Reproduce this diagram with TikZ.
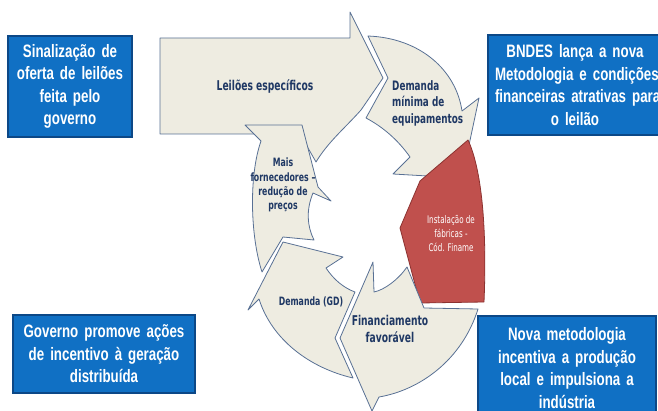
\documentclass[tikz,border=0pt]{standalone}
\usepackage{fontspec}
\setmainfont{Liberation Sans}
\newfontfamily\boxfont[FakeStretch=0.74]{Liberation Sans}
\newfontfamily\ringfont[FakeStretch=0.68]{DejaVu Sans}
\usepackage{xcolor}
\definecolor{boxblue}{RGB}{16,112,196}
\definecolor{boxedge}{RGB}{12,72,135}
\definecolor{ringfill}{RGB}{238,236,225}
\definecolor{ringedge}{RGB}{88,112,148}
\definecolor{ringtext}{RGB}{31,56,100}
\definecolor{redfill}{RGB}{192,80,77}
\definecolor{rededge}{RGB}{140,50,48}

\begin{document}
\begin{tikzpicture}[x=1pt, y=-1pt,
  bluebox/.style={draw=boxedge, line width=1.2pt, fill=boxblue, text=white,
                  align=center, inner xsep=4pt, inner ysep=0pt,
                  font=\boxfont\bfseries\fontsize{18}{22.5}\selectfont},
  seg/.style={draw=ringedge, line width=0.8pt, fill=ringfill, line join=round},
  redseg/.style={seg, draw=rededge, fill=redfill},
  lbl/.style={text=ringtext, align=center, inner sep=0pt}
]
  \useasboundingbox (0,0) rectangle (658,411);
  \clip (0,0) rectangle (658,411);

  % Cycle: straight arrow first, then the ring pieces on top
  \draw[seg] (160,38) -- (350,38) -- (350,12) -- (383,78) -- (361,110)
    .. controls (345,128) and (328,142) .. (316,162) -- (300,134) -- (160,134) -- cycle;
  \draw[seg] (245,125) -- (302,125) -- (318,187) -- (331,201) -- (313,193)
    .. controls (306,210) and (307,226) .. (314,240) -- (283,237) -- (262,272)
    .. controls (250,235) and (249,175) .. (261,141) -- cycle;
  \draw[seg] (368,36) .. controls (420,38) and (456,70) .. (462,111) -- (479,98)
    -- (462,178) -- (393,174) -- (410,157)
    .. controls (398,140) and (383,127) .. (366,118) -- (388,78) -- cycle;
  \draw[redseg] (468,140) .. controls (482,170) and (487,230) .. (484,302)
    -- (420,303) -- (400,228) -- (420,181) -- cycle;
  \draw[seg] (407,267) -- (424,308) -- (478,309)
    .. controls (462,360) and (420,390) .. (379,397) -- (372,411) -- (340,338)
    -- (373,262) -- (374,292) .. controls (384,290) and (398,280) .. (407,267) -- cycle;
  \draw[seg] (283,242) -- (343,257) -- (326,268)
    .. controls (334,280) and (344,288) .. (355,292) -- (335,338) -- (353,378)
    .. controls (310,368) and (272,340) .. (259,299) -- (248,310) -- cycle;

  % Ring labels
  \node[lbl, font=\ringfont\bfseries\fontsize{13.5}{16.5}\selectfont] (leiloes) at (265,87) {Leilões específicos};
  \node[lbl, align=left, anchor=west, font=\ringfont\bfseries\fontsize{13}{16.5}\selectfont] (demmin) at (392,103) {Demanda\\mínima de\\equipamentos};
  \node[lbl, font=\ringfont\bfseries\fontsize{11.5}{14.3}\selectfont] (mais) at (283,185) {Mais\\fornecedores –\\redução de\\preços};
  \node[lbl, font=\ringfont\bfseries\fontsize{11.5}{14}\selectfont] (demgd) at (311,302) {Demanda (GD)};
  \node[lbl, font=\ringfont\bfseries\fontsize{13.5}{17}\selectfont] (financ) at (390,329) {Financiamento\\favorável};
  \node[lbl, text=white, font=\ringfont\fontsize{10.5}{14}\selectfont] (instal) at (451,233) {Instalação de\\fábricas -\\Cód. Finame};

  % Side boxes
  \node[bluebox, text width=116pt, minimum height=101pt] (sinal) at (70,86.5) {Sinalização de\\oferta de leilões\\feita pelo\\governo};
  \node[bluebox, inner xsep=7pt, text width=160pt, minimum height=100pt] (bndes) at (575,85) {BNDES lança a nova\\\mbox{Metodologia e condições}\\\mbox{financeiras atrativas para}\\o leilão};
  \node[bluebox, text width=174pt, minimum height=78pt] (gov) at (104,354) {Governo promove ações\\de incentivo à geração\\distribuída};
  \node[bluebox, text width=170pt, minimum height=104pt] (nova) at (567,368) {Nova metodologia\\incentiva a produção\\local e impulsiona a\\indústria};
\end{tikzpicture}
\end{document}
